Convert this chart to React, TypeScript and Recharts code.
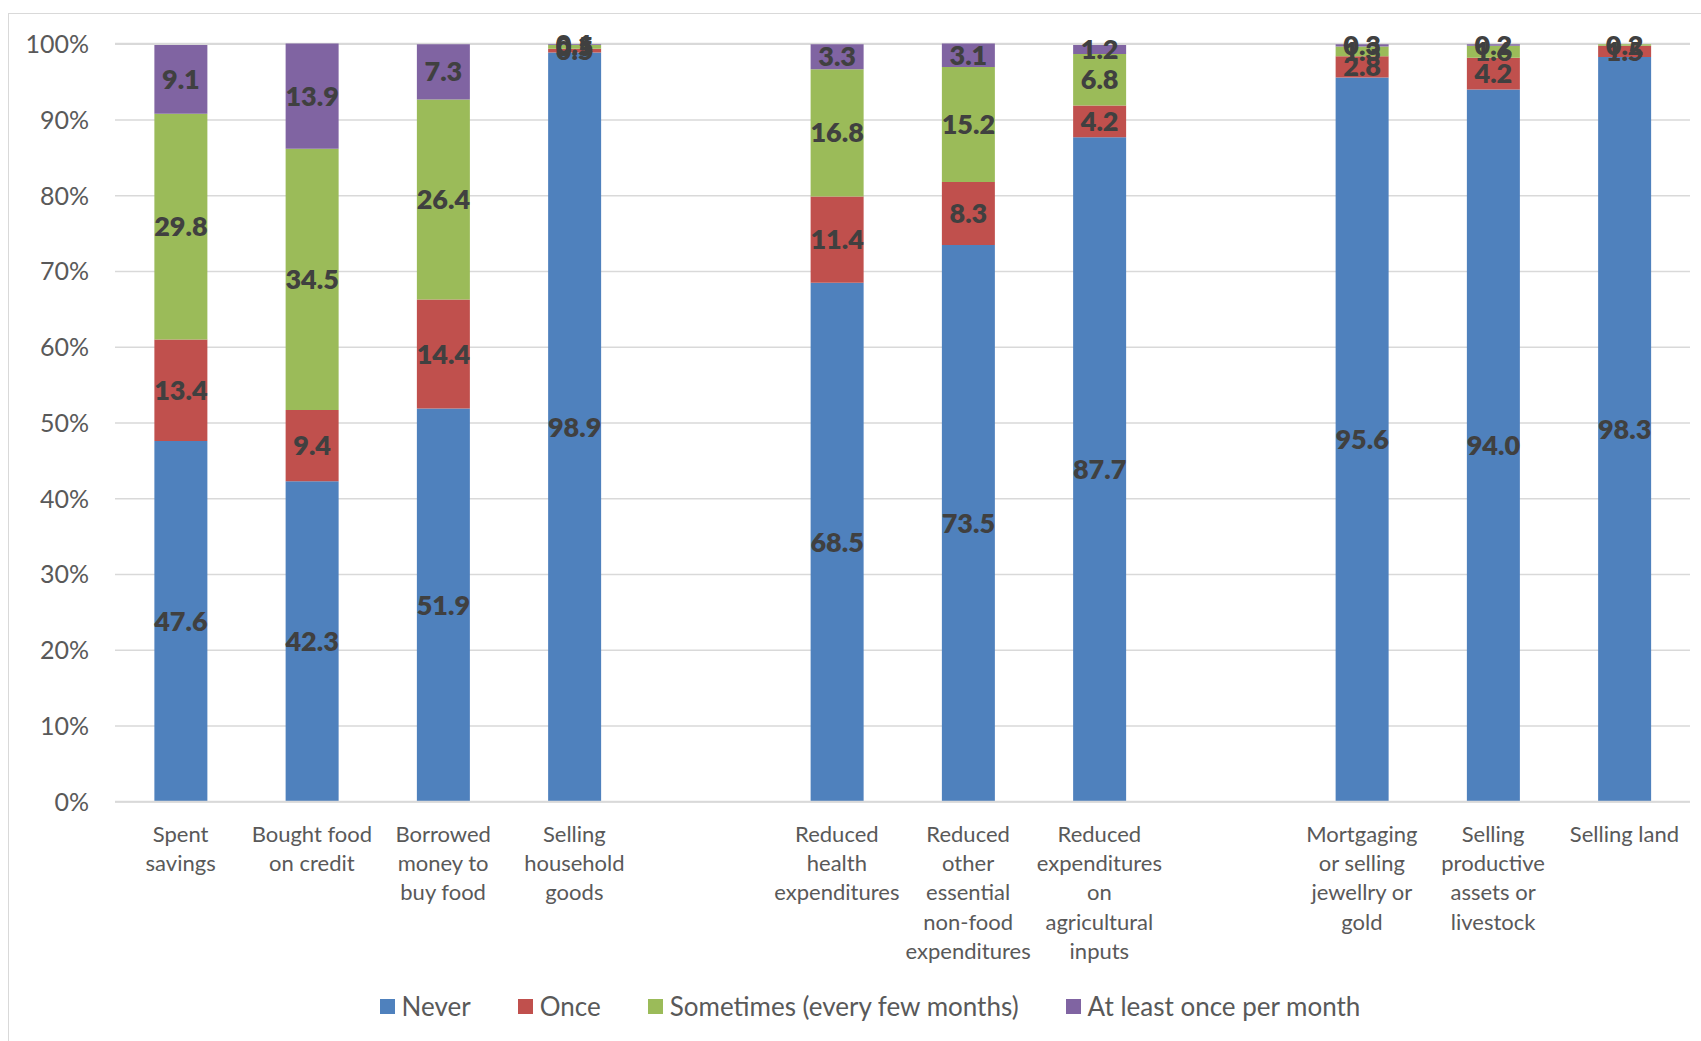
import React from "react";
import { BarChart, Bar, XAxis, YAxis, CartesianGrid, LabelList } from "recharts";

// Coping strategies; empty entries act as spacers between the three groups.
const categories = [
  "Spent\nsavings",
  "Bought food\non credit",
  "Borrowed\nmoney to\nbuy food",
  "Selling\nhousehold\ngoods",
  "",
  "Reduced\nhealth\nexpenditures",
  "Reduced\nother\nessential\nnon-food\nexpenditures",
  "Reduced\nexpenditures\non\nagricultural\ninputs",
  "",
  "Mortgaging\nor selling\njewellry or\ngold",
  "Selling\nproductive\nassets or\nlivestock",
  "Selling land",
];

const never = [47.6, 42.3, 51.9, 98.9, null, 68.5, 73.5, 87.7, null, 95.6, 94.0, 98.3];
const once = [13.4, 9.4, 14.4, 0.5, null, 11.4, 8.3, 4.2, null, 2.8, 4.2, 1.5];
const sometimes = [29.8, 34.5, 26.4, 0.5, null, 16.8, 15.2, 6.8, null, 1.3, 1.6, 0.2];
const monthly = [9.1, 13.9, 7.3, 0.1, null, 3.3, 3.1, 1.2, null, 0.3, 0.2, 0.0];

const yTicks = [0, 10, 20, 30, 40, 50, 60, 70, 80, 90, 100];

const seriesNames = ["Never", "Once", "Sometimes (every few months)", "At least once per month"];
const seriesKeys = ["never", "once", "sometimes", "monthly"];
const seriesColors = ["#4F81BD", "#C0504D", "#9BBB59", "#8064A2"];

const data = categories.map((name, i) => ({
  name,
  never: never[i],
  once: once[i],
  sometimes: sometimes[i],
  monthly: monthly[i],
}));

const FONT = "Lato, 'Open Sans', sans-serif";
const TEXT_GREY = "#595959";
const GRID = "#D9D9D9";

const CategoryTick = (props: any) => {
  const { x, y, payload } = props;
  const lines = String(payload.value || "").split("\n");
  return (
    <text
      x={x}
      y={y}
      textAnchor="middle"
      fill={TEXT_GREY}
      fontFamily={FONT}
      fontSize={22}
    >
      {lines.map((ln, i) => (
        <tspan key={i} x={x} dy={i === 0 ? 32 : 29.3}>
          {ln}
        </tspan>
      ))}
    </text>
  );
};

const fmt = (v: any) => (v === null || v === undefined ? "" : Number(v).toFixed(1));

export default function App() {
  return (
    <div
      style={{
        position: "absolute",
        left: 0,
        top: 0,
        width: 1701,
        height: 1041,
        overflow: "hidden",
        background: "#fff",
      }}
    >
      <div
        style={{
          position: "absolute",
          left: 8,
          top: 13,
          width: 1760,
          height: 1100,
          border: `1.5px solid ${GRID}`,
          boxSizing: "border-box",
        }}
      />
      <div style={{ position: "absolute", left: 0, top: 0 }}>
        <BarChart
          width={1701}
          height={1041}
          data={data}
          margin={{ top: 43.4, right: 11, bottom: 0, left: 15 }}
          barCategoryGap="30%"
        >
          <CartesianGrid vertical={false} stroke={GRID} strokeWidth={1.5} />
          <XAxis
            dataKey="name"
            height={239.3}
            axisLine={{ stroke: GRID, strokeWidth: 2 }}
            tickLine={false}
            tick={<CategoryTick />}
            interval={0}
          />
          <YAxis
            width={100}
            domain={[0, 100]}
            ticks={yTicks}
            tickFormatter={(v: number) => `${v}%`}
            axisLine={false}
            tickLine={false}
            tickSize={0}
            tickMargin={26}
            tick={{ fill: TEXT_GREY, fontFamily: FONT, fontSize: 25 }}
          />
          {seriesKeys.map((k, i) => (
            <Bar
              key={k}
              dataKey={k}
              name={seriesNames[i]}
              stackId="a"
              fill={seriesColors[i]}
              isAnimationActive={false}
            >
              <LabelList
                dataKey={k}
                position="center"
                formatter={fmt}
                fill="#404040"
                fontWeight={800}
                fontSize={27}
                fontFamily={FONT}
              />
            </Bar>
          ))}
        </BarChart>
      </div>
      <div
        style={{
          position: "absolute",
          left: 0,
          width: 1740,
          top: 990,
          height: 32,
          display: "flex",
          justifyContent: "center",
          alignItems: "center",
          gap: 47,
          fontFamily: FONT,
          fontSize: 26,
          color: TEXT_GREY,
        }}
      >
        {seriesNames.map((n, i) => (
          <div key={n} style={{ display: "flex", alignItems: "center", gap: 7 }}>
            <span
              style={{
                display: "inline-block",
                width: 15,
                height: 15,
                background: seriesColors[i],
              }}
            />
            <span>{n}</span>
          </div>
        ))}
      </div>
    </div>
  );
}
